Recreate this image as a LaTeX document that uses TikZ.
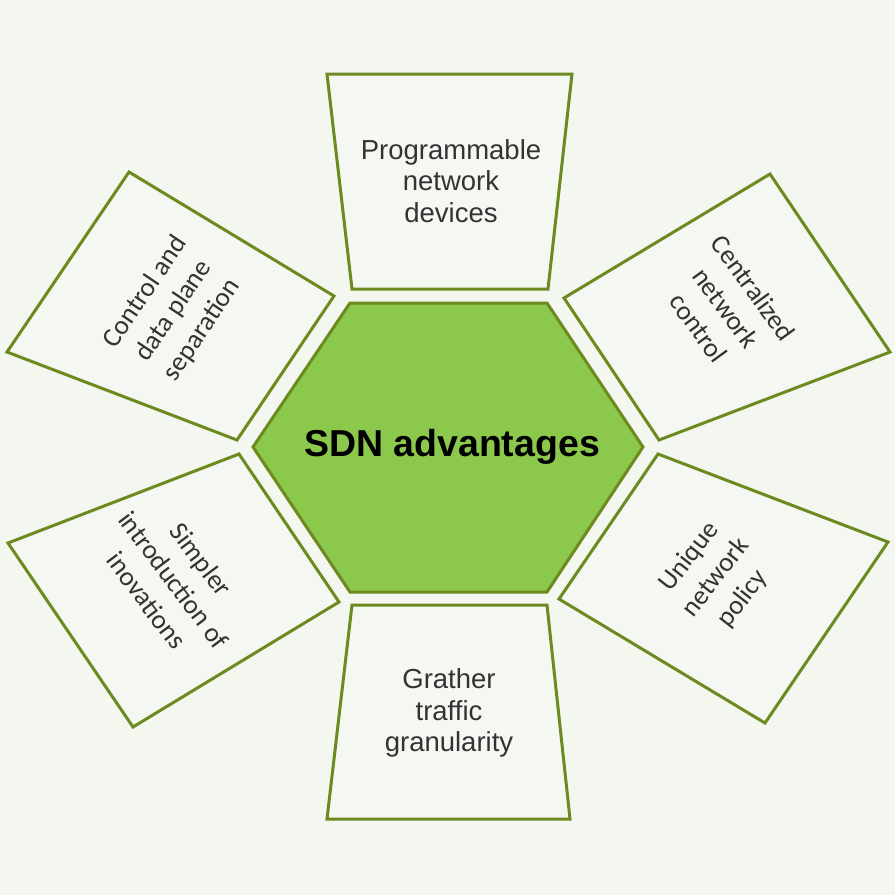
\documentclass[tikz,border=0pt]{standalone}
\usepackage{fontspec}
\setmainfont{Liberation Sans}
\newfontfamily\humfont{Carlito}
\definecolor{bgc}{HTML}{F4F7F0}
\definecolor{boxfill}{HTML}{F5F7F2}
\definecolor{edgec}{HTML}{6B8A1F}
\definecolor{hexfill}{HTML}{8CC84B}
\definecolor{txtc}{HTML}{333333}
\tikzset{
  panel/.style={draw=edgec, fill=boxfill, line width=3pt, line join=miter},
  hexa/.style={draw=edgec, fill=hexfill, line width=3pt, line join=miter},
  straighttxt/.style={align=center, text=txtc, font=\fontsize{27.5}{31.5}\selectfont},
  slanttxt/.style={align=center, text=txtc, font=\humfont\fontsize{27}{34}\selectfont},
}
\begin{document}
\begin{tikzpicture}[x=1pt,y=-1pt]
\useasboundingbox (0,0) rectangle (895,895);
\fill[bgc] (0,0) rectangle (895,895);
% central hexagon
\draw[hexa] (350,303) -- (547,303) -- (643,447) -- (547,592) -- (350,592) -- (253,447) -- cycle;
\node[font=\bfseries\fontsize{37.5}{40}\selectfont] (hub) at (452,447) {SDN advantages};
% top
\draw[panel] (327,74) -- (572,74) -- (548,289) -- (352,289) -- cycle;
\node[straighttxt] (top) at (451,181) {Programmable\\network\\devices};
% bottom
\draw[panel] (352,605) -- (547,605) -- (570,819) -- (327,819) -- cycle;
\node[straighttxt] (bottom) at (449,713) {Grather\\traffic\\granularity};
% upper left
\draw[panel] (129,172) -- (334,296) -- (237,440) -- (7,352) -- cycle;
\node[slanttxt, rotate=56] (ul) at (174,311) {Control and\\data plane\\separation};
% upper right
\draw[panel] (770,174) -- (890,352) -- (659,440) -- (564,298) -- cycle;
\node[slanttxt, rotate=-54] (ur) at (726,308) {Centralized\\network\\control};
% lower left
\draw[panel] (239,454) -- (339,602) -- (133,727) -- (8,543) -- cycle;
\node[slanttxt, rotate=-53] (ll) at (174,580) {Simpler\\introduction of\\inovations};
% lower right
\draw[panel] (658,454) -- (888,542) -- (765,723) -- (559,599) -- cycle;
\node[slanttxt, rotate=52] (lr) at (716,578) {Unique\\network\\policy};
\end{tikzpicture}
\end{document}
